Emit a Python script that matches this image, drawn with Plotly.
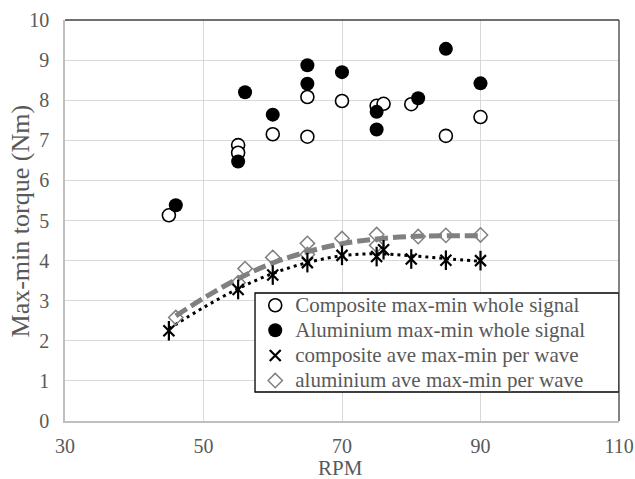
import plotly.graph_objects as go

# ---- data ----
comp_whole_x = [45, 55, 55, 60, 65, 65, 70, 75, 76, 80, 85, 90]
comp_whole_y = [5.13, 6.88, 6.69, 7.15, 8.08, 7.09, 7.98, 7.86, 7.91, 7.90, 7.11, 7.58]

alu_whole_x = [46, 55, 56, 60, 65, 65, 70, 75, 75, 81, 85, 90]
alu_whole_y = [5.38, 6.47, 8.20, 7.64, 8.87, 8.41, 8.70, 7.71, 7.27, 8.05, 9.28, 8.42]

comp_ave_x = [45, 55, 60, 65, 70, 75, 76, 80, 85, 90]
comp_ave_y = [2.25, 3.28, 3.64, 3.95, 4.13, 4.10, 4.27, 4.04, 4.01, 4.00]

alu_ave_x = [46, 55, 56, 60, 65, 65, 70, 75, 75, 81, 85, 90]
alu_ave_y = [2.58, 3.45, 3.80, 4.08, 4.43, 4.15, 4.55, 4.65, 4.38, 4.60, 4.63, 4.64]

# trend lines
comp_trend_x = [45, 50, 55, 60, 65, 70, 75, 80, 85, 90]
comp_trend_y = [2.30, 2.83, 3.30, 3.68, 3.95, 4.12, 4.17, 4.12, 4.05, 3.98]
alu_trend_x = [46, 50, 55, 60, 65, 70, 75, 80, 85, 90]
alu_trend_y = [2.62, 3.06, 3.55, 3.94, 4.22, 4.42, 4.54, 4.60, 4.62, 4.62]

names = ["Composite max-min whole signal",
         "Aluminium max-min whole signal",
         "composite ave max-min per wave",
         "aluminium ave max-min per wave"]

x_ticks = [30, 50, 70, 90, 110]
y_ticks = [0, 1, 2, 3, 4, 5, 6, 7, 8, 9, 10]

FONT = "Liberation Serif, Times New Roman, serif"
TXT = "#595959"


def lg(name):
    return '<span style="font-size:21px">' + name + "</span>"


fig = go.Figure()

# trend lines
fig.add_trace(go.Scatter(x=alu_trend_x, y=alu_trend_y, mode="lines",
                         line=dict(color="#808080", width=5, dash="13px,5px", shape="spline"),
                         showlegend=False, hoverinfo="skip"))
fig.add_trace(go.Scatter(x=comp_trend_x, y=comp_trend_y, mode="lines",
                         line=dict(color="black", width=3, dash="3px,4px", shape="spline"),
                         showlegend=False, hoverinfo="skip"))

# whole signal
fig.add_trace(go.Scatter(x=comp_whole_x, y=comp_whole_y, mode="markers", name=lg(names[0]),
                         legendrank=1,
                         marker=dict(symbol="circle", size=13, color="white",
                                     line=dict(color="black", width=1.6))))
fig.add_trace(go.Scatter(x=alu_whole_x, y=alu_whole_y, mode="markers", name=lg(names[1]),
                         legendrank=2,
                         marker=dict(symbol="circle", size=14, color="black",
                                     line=dict(color="black", width=0))))

# per wave
fig.add_trace(go.Scatter(x=alu_ave_x, y=alu_ave_y, mode="markers", name=lg(names[3]),
                         legendrank=4,
                         marker=dict(symbol="diamond-open", size=11, color="#808080",
                                     line=dict(color="#808080", width=1.5))))
fig.add_trace(go.Scatter(x=comp_ave_x, y=comp_ave_y, mode="markers", name=lg(names[2]),
                         legendrank=3, legendgroup="cave",
                         marker=dict(symbol="x-thin-open", size=11, color="black",
                                     line=dict(color="black", width=2.2))))
fig.add_trace(go.Scatter(x=comp_ave_x, y=comp_ave_y, mode="markers", showlegend=False,
                         legendgroup="cave", hoverinfo="skip",
                         marker=dict(symbol="line-ns-open", size=14, color="black",
                                     line=dict(color="black", width=2.2))))

# legend box (reaches the right edge of the plot area)
fig.add_shape(type="rect", xref="x", yref="paper", layer="above",
              x0=57.44, x1=110, y0=0.0723, y1=0.3192,
              fillcolor="white", line=dict(color="black", width=1.3))
# plot frame: top and right darker
fig.add_shape(type="line", xref="paper", yref="paper", x0=0, x1=1, y0=1, y1=1,
              layer="above", line=dict(color="#404040", width=1.3))
fig.add_shape(type="line", xref="paper", yref="paper", x0=1, x1=1, y0=0, y1=1,
              layer="above", line=dict(color="#404040", width=1.3))

fig.add_annotation(text="Max-min torque (Nm)", xref="paper", yref="paper",
                   x=-0.0795, y=0.5, xanchor="center", yanchor="middle",
                   textangle=-90, showarrow=False,
                   font=dict(family=FONT, size=26, color=TXT))
fig.add_annotation(text="RPM", xref="paper", yref="paper",
                   x=0.497, y=-0.117, xanchor="center", yanchor="middle",
                   showarrow=False,
                   font=dict(family=FONT, size=21, color=TXT))

fig.update_xaxes(range=[30, 110], tickvals=x_ticks, ticktext=[str(v) for v in x_ticks],
                 showgrid=True, gridcolor="#d9d9d9", gridwidth=1.3,
                 showline=True, linecolor="#bfbfbf", linewidth=1.5,
                 zeroline=False, ticks="", ticklabelstandoff=6, automargin=False,
                 tickfont=dict(family=FONT, size=20, color=TXT))
fig.update_yaxes(range=[0, 10], tickvals=y_ticks,
                 showgrid=True, gridcolor="#d9d9d9", gridwidth=1.3,
                 showline=True, linecolor="#bfbfbf", linewidth=1.5,
                 zeroline=False, ticks="", ticklabelstandoff=10, automargin=False,
                 tickfont=dict(family=FONT, size=20, color=TXT))

fig.update_layout(
    width=635, height=479,
    margin=dict(l=65, r=16, t=20, b=58, autoexpand=False),
    paper_bgcolor="white", plot_bgcolor="white",
    font=dict(family=FONT, color=TXT),
    legend=dict(x=0.3434, y=0.3325, xanchor="left", yanchor="top",
                bgcolor="rgba(0,0,0,0)", borderwidth=0,
                font=dict(family=FONT, size=17, color=TXT),
                itemwidth=30, traceorder="normal"),
    showlegend=True,
)

# remove the default page margin so the 635x479 figure fills the window exactly
fig.write_html("out.html", config={"displayModeBar": False},
               post_script="document.body.style.margin='0';document.body.style.overflow='hidden';")
